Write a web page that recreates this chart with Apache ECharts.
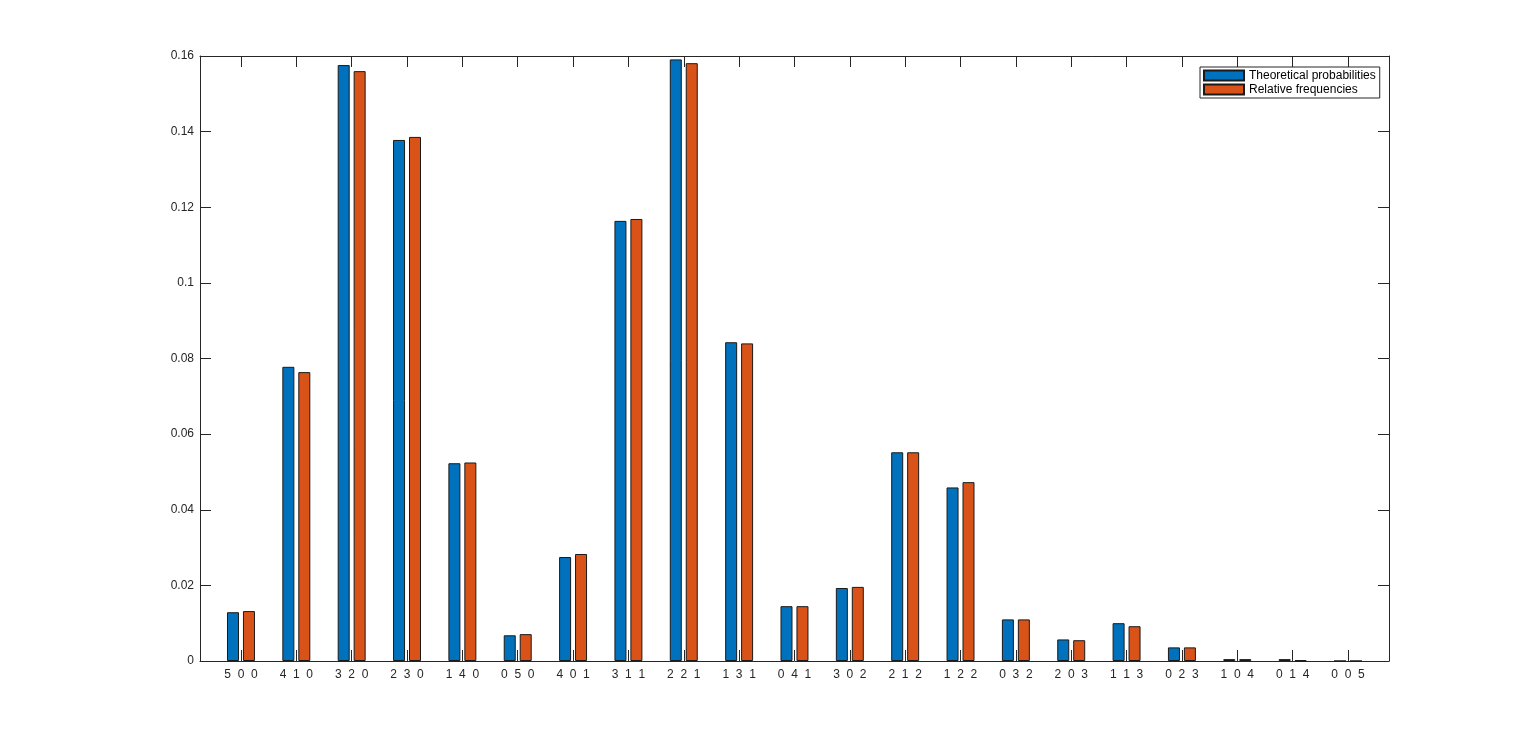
<!DOCTYPE html>
<html>
<head>
<meta charset="utf-8">
<script src="https://cdn.jsdelivr.net/npm/echarts@6/dist/echarts.min.js"></script>
<style>
html,body{margin:0;padding:0;background:#fff;}
#c{width:1536px;height:744px;}
</style>
</head>
<body>
<div id="c"></div>
<script>
var categories = ['5  0  0','4  1  0','3  2  0','2  3  0','1  4  0','0  5  0','4  0  1','3  1  1','2  2  1','1  3  1','0  4  1','3  0  2','2  1  2','1  2  2','0  3  2','2  0  3','1  1  3','0  2  3','1  0  4','0  1  4','0  0  5'];
var theoretical = [0.0129,0.0778,0.1576,0.1378,0.0523,0.0068,0.0275,0.1164,0.1591,0.0843,0.0145,0.0193,0.0552,0.0459,0.0110,0.0057,0.0100,0.0036,0.0005,0.0005,0.0000];
var relative    = [0.0132,0.0764,0.1560,0.1386,0.0525,0.0071,0.0283,0.1169,0.1581,0.0840,0.0145,0.0196,0.0552,0.0473,0.0110,0.0055,0.0092,0.0036,0.0005,0.0002,0.0000];
var yTicks = {min:0, max:0.16, interval:0.02};

var axisColor = '#262626';
var font = 'Liberation Sans, Helvetica, Arial, sans-serif';
var chart = echarts.init(document.getElementById('c'), null, {renderer:'canvas'});
var lineStyle = {color: axisColor, width: 1};
var frameLine = {show:true, onZero:false, lineStyle:lineStyle};
chart.setOption({
  animation:false,
  backgroundColor:'#fff',
  textStyle:{fontFamily:font},
  grid:[
    {left:200, top:56, width:1189, height:605, containLabel:false},
    {left:213.3, top:56, width:1162.35, height:605, containLabel:false}
  ],
  xAxis:[
    {gridIndex:0, type:'value', min:0, max:1, position:'bottom',
     axisLine:frameLine, axisTick:{show:false}, axisLabel:{show:false}, splitLine:{show:false}},
    {gridIndex:0, type:'value', min:0, max:1, position:'top',
     axisLine:frameLine, axisTick:{show:false}, axisLabel:{show:false}, splitLine:{show:false}},
    {gridIndex:1, type:'category', data:categories, position:'bottom', boundaryGap:true,
     axisLine:{show:false, onZero:false}, axisTick:{show:true, inside:true, length:11, alignWithLabel:true, interval:0, lineStyle:lineStyle},
     axisLabel:{show:true, interval:0, margin:8, color:axisColor, fontSize:12, fontFamily:font}, splitLine:{show:false}},
    {gridIndex:1, type:'category', data:categories, position:'top', boundaryGap:true,
     axisLine:{show:false, onZero:false}, axisTick:{show:true, inside:true, length:11, alignWithLabel:true, interval:0, lineStyle:lineStyle},
     axisLabel:{show:false}, splitLine:{show:false}}
  ],
  yAxis:[
    {gridIndex:0, type:'value', min:yTicks.min, max:yTicks.max, interval:yTicks.interval, position:'left',
     axisLine:frameLine, axisTick:{show:true, inside:true, length:11, lineStyle:lineStyle},
     axisLabel:{show:true, margin:6, color:axisColor, fontSize:12, fontFamily:font,
       formatter:function(v){return v===0?'0':String(+v.toFixed(2));}}, splitLine:{show:false}},
    {gridIndex:0, type:'value', min:yTicks.min, max:yTicks.max, interval:yTicks.interval, position:'right',
     axisLine:frameLine, axisTick:{show:true, inside:true, length:11, lineStyle:lineStyle},
     axisLabel:{show:false}, splitLine:{show:false}},
    {gridIndex:1, type:'value', min:yTicks.min, max:yTicks.max, show:false}
  ],
  legend:{
    orient:'vertical', left:1200, top:67,
    padding:[2,4,2,3], itemGap:1, itemWidth:40, itemHeight:10,
    borderColor:axisColor, borderWidth:1, backgroundColor:'#fff',
    textStyle:{fontSize:12, color:'#000', fontFamily:font, lineHeight:13},
    icon:'rect',
    data:['Theoretical probabilities','Relative frequencies']
  },
  series:[
    {name:'Theoretical probabilities', type:'bar', xAxisIndex:2, yAxisIndex:2, data:theoretical,
     barWidth:12, barGap:'33%', itemStyle:{color:'#0072BD', borderColor:'#1a1a1a', borderWidth:1}},
    {name:'Relative frequencies', type:'bar', xAxisIndex:2, yAxisIndex:2, data:relative,
     barWidth:12, barGap:'33%', itemStyle:{color:'#D95319', borderColor:'#1a1a1a', borderWidth:1}}
  ]
});
</script>
</body>
</html>
